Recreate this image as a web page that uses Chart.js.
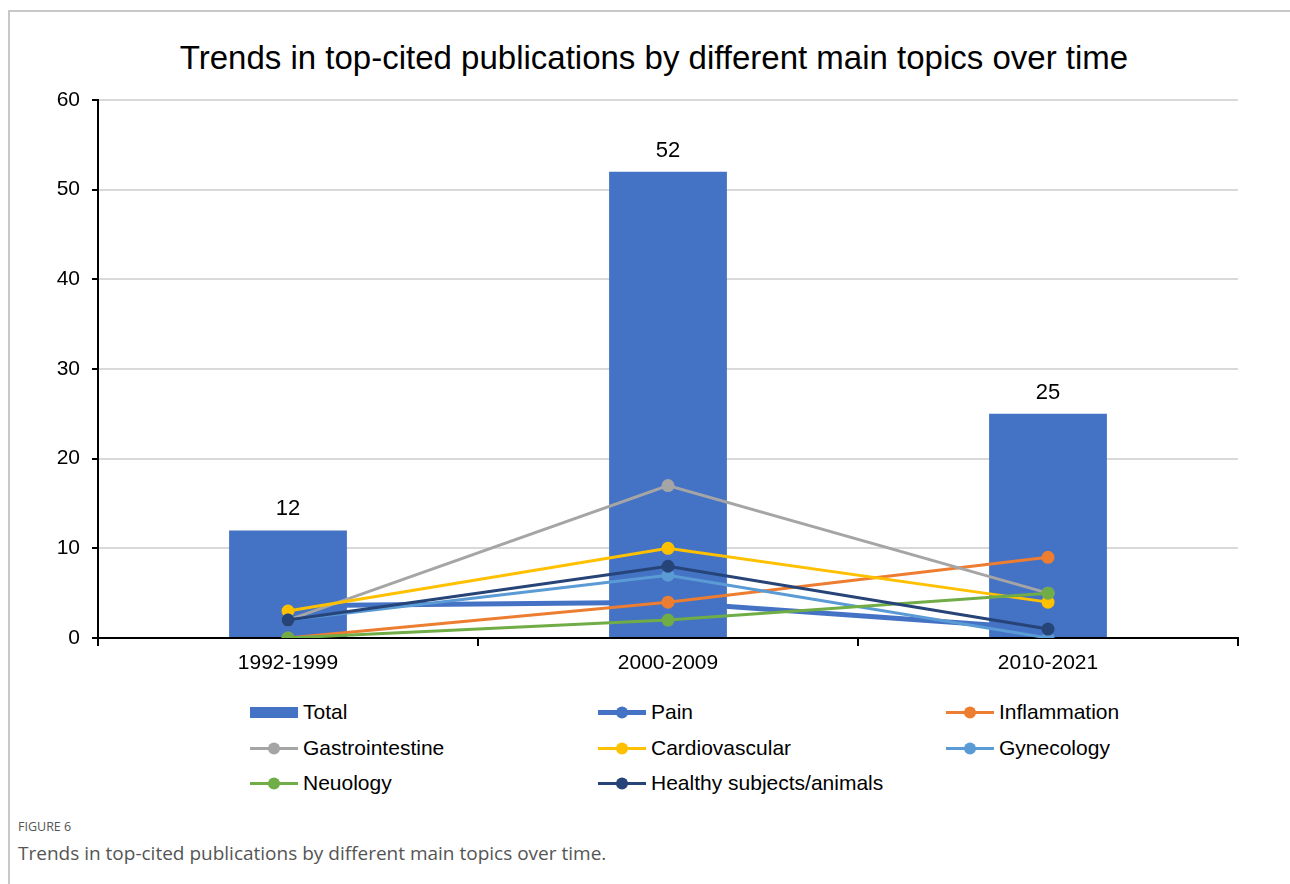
<!DOCTYPE html>
<html>
<head>
<meta charset="utf-8">
<script src="https://cdn.jsdelivr.net/npm/chart.js@4"></script>
<style>
	body { margin: 0; background: #fff; width: 1290px; height: 884px; position: relative; overflow: hidden; font-family: "Liberation Sans", Arial, sans-serif; }
	#frame { position: absolute; left: 8px; top: 10px; width: 1290px; height: 880px; border-top: 2px solid #c8c8c8; border-left: 2px solid #c8c8c8; }
	#title { position: absolute; left: 0; top: 38px; width: 1308px; text-align: center; font-size: 33px; line-height: 40px; color: #000; white-space: nowrap; }
	#wrap { position: absolute; left: 0; top: 0; width: 1290px; height: 690px; }
	#legend { position: absolute; left: 250px; top: 697px; width: 1000px; }
	.item { position: absolute; height: 30px; font-size: 21px; line-height: 30px; color: #000; white-space: nowrap; }
	.mark { position: absolute; left: 0; top: 0; width: 48px; height: 30px; }
	.item span.txt { position: absolute; left: 53px; top: 0; }
	.cap1 { position: absolute; left: 18px; top: 818px; font-family: "Open Sans", sans-serif; font-size: 12.5px; color: #555; }
	.cap2 { position: absolute; left: 18px; top: 840px; font-family: "Open Sans", sans-serif; font-size: 19px; color: #555; }
</style>
</head>
<body>
<div id="frame"></div>
<div id="title">Trends in top-cited publications by different main topics over time</div>
<div id="wrap"><canvas id="myChart"></canvas></div>
<div id="legend"></div>
<div class="cap1">FIGURE 6</div>
<div class="cap2">Trends in top-cited publications by different main topics over time.</div>
<script>
let periods = ["1992-1999", "2000-2009", "2010-2021"];
let totals = [12, 52, 25];
let pain = [3.6, 4, 1];
let inflammation = [0, 4, 9];
let gastrointestine = [2, 17, 5];
let cardiovascular = [3, 10, 4];
let gynecology = [2, 7, 0];
let neuology = [0, 2, 5];
let healthy = [2, 8, 1];
let yTicks = [0, 10, 20, 30, 40, 50, 60];

let topics = [
	{ label: "Pain", data: pain, color: "#4472C4", width: 5 },
	{ label: "Inflammation", data: inflammation, color: "#ED7D31", width: 3 },
	{ label: "Gastrointestine", data: gastrointestine, color: "#A5A5A5", width: 3 },
	{ label: "Cardiovascular", data: cardiovascular, color: "#FFC000", width: 3 },
	{ label: "Gynecology", data: gynecology, color: "#5B9BD5", width: 3 },
	{ label: "Neuology", data: neuology, color: "#70AD47", width: 3 },
	{ label: "Healthy subjects/animals", data: healthy, color: "#264478", width: 3 },
];

let datasets = [
	{
		type: "bar",
		label: "Total",
		data: totals,
		backgroundColor: "#4472C4",
		barPercentage: 0.31,
		categoryPercentage: 1,
		order: 100,
	},
];

topics.forEach((t, i) => {
	datasets.push({
		type: "line",
		label: t.label,
		data: t.data,
		borderColor: t.color,
		backgroundColor: t.color,
		borderWidth: t.width,
		pointRadius: 6.5,
		pointHoverRadius: 6.5,
		pointBorderWidth: 0,
		tension: 0,
		order: 20 - i,
	});
});

// numbers over the bars
const barLabels = {
	id: "barLabels",
	afterDatasetsDraw(chart) {
		let ctx = chart.ctx;
		let meta = chart.getDatasetMeta(0);
		ctx.save();
		ctx.font = "22px 'Liberation Sans', Arial, sans-serif";
		ctx.fillStyle = "#000";
		ctx.textAlign = "center";
		ctx.textBaseline = "middle";
		meta.data.forEach((bar, i) => {
			ctx.fillText(totals[i], bar.x, bar.y - 21);
		});
		ctx.restore();
	},
};

let tickFont = { family: "'Liberation Sans', Arial, sans-serif", size: 21 };

var ctx = document.getElementById("myChart").getContext("2d");
var chart = new Chart(ctx, {
	data: { labels: periods, datasets: datasets },
	plugins: [barLabels],
	options: {
		responsive: true,
		maintainAspectRatio: false,
		animation: false,
		layout: { padding: { left: 0, right: 52, top: 100, bottom: 0 } },
		plugins: {
			legend: { display: false },
			tooltip: { enabled: false },
		},
		scales: {
			x: {
				grid: { drawOnChartArea: false, color: "#000", tickColor: "#000", tickLength: 8, lineWidth: 2 },
				border: { color: "#000", width: 2 },
				ticks: { color: "#000", font: tickFont, padding: 5 },
				afterFit(scale) { scale.height = 52; },
			},
			y: {
				min: 0,
				max: 60,
				afterBuildTicks(scale) { scale.ticks = yTicks.map((v) => ({ value: v })); },
				grid: { color: "#d9d9d9", lineWidth: 2, tickColor: "#000", tickLength: 6 },
				border: { color: "#000", width: 2 },
				ticks: { color: "#000", font: tickFont, padding: 12 },
				afterFit(scale) { scale.width = 98; },
			},
		},
	},
});

// legend laid out in three columns like the original
let legendBox = document.getElementById("legend");
let names = ["Total"].concat(topics.map((t) => t.label));
let colX = [0, 348, 696];
names.forEach((name, i) => {
	let item = document.createElement("div");
	item.className = "item";
	item.style.left = colX[i % 3] + "px";
	item.style.top = Math.floor(i / 3) * 35.5 + "px";
	let mark = document.createElement("canvas");
	mark.className = "mark";
	mark.width = 48;
	mark.height = 30;
	let c = mark.getContext("2d");
	if (i === 0) {
		c.fillStyle = "#4472C4";
		c.fillRect(0, 10, 48, 11);
	} else {
		let t = topics[i - 1];
		c.strokeStyle = t.color;
		c.lineWidth = t.width;
		c.beginPath();
		c.moveTo(0, 15.5);
		c.lineTo(48, 15.5);
		c.stroke();
		c.fillStyle = t.color;
		c.beginPath();
		c.arc(24, 15.5, 6, 0, Math.PI * 2);
		c.fill();
	}
	let txt = document.createElement("span");
	txt.className = "txt";
	txt.textContent = name;
	item.appendChild(mark);
	item.appendChild(txt);
	legendBox.appendChild(item);
});
</script>
</body>
</html>
